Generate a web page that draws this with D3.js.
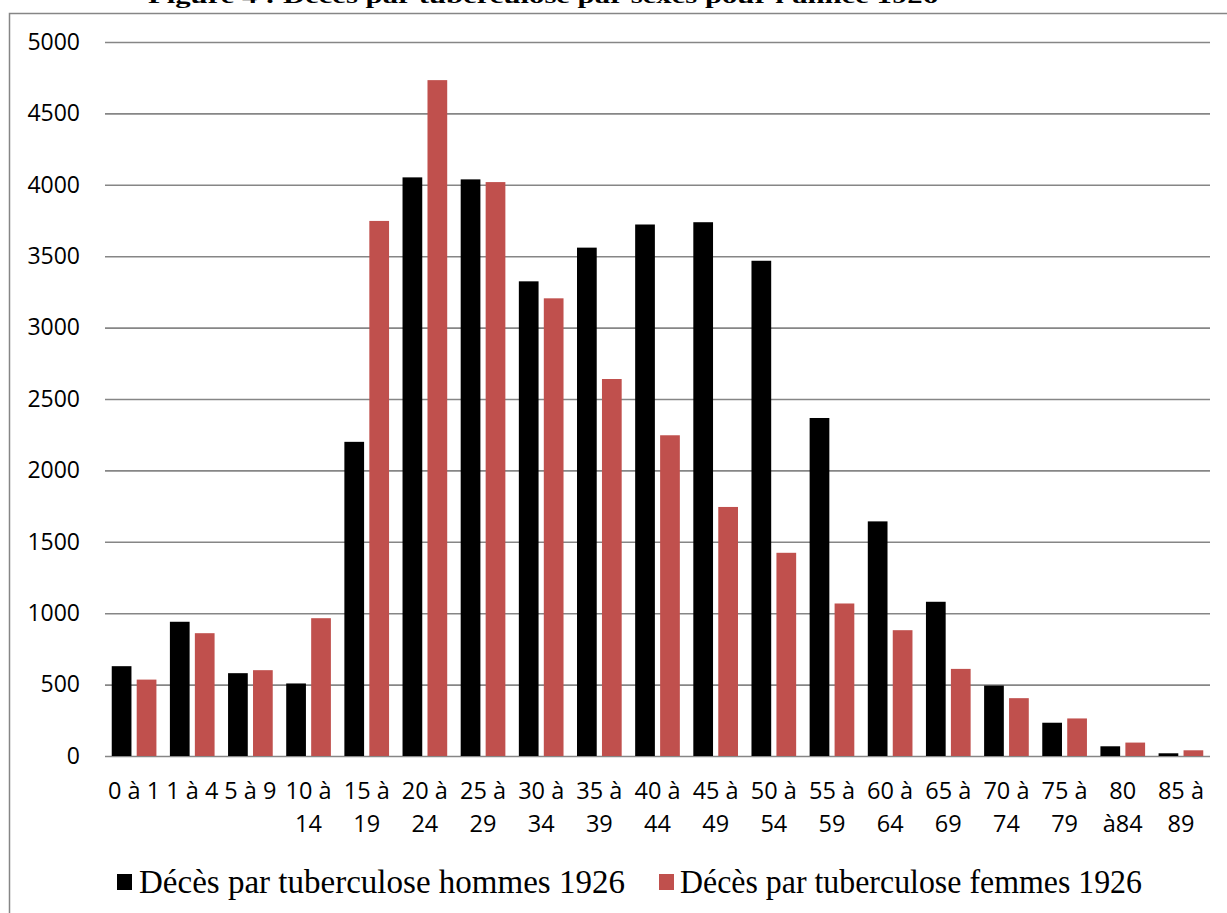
<!DOCTYPE html>
<html>
<head>
<meta charset="utf-8">
<script src="https://cdn.jsdelivr.net/npm/d3@7/dist/d3.min.js"></script>
<style>
  html, body { margin: 0; padding: 0; background: #fff; }
  svg { display: block; }
</style>
</head>
<body>
<svg id="chart" width="1227" height="913"></svg>
<script>
const title = "Figure 4 : Décès par tuberculose par sexes pour l'année 1926";
const categories = ["0 à 1", "1 à 4", "5 à 9", "10 à 14", "15 à 19", "20 à 24", "25 à 29", "30 à 34", "35 à 39", "40 à 44",
                    "45 à 49", "50 à 54", "55 à 59", "60 à 64", "65 à 69", "70 à 74", "75 à 79", "80 à84", "85 à 89"];
const seriesNames = ["Décès par tuberculose hommes 1926", "Décès par tuberculose femmes 1926"];
const hommes = [629, 940, 580, 508, 2200, 4052, 4038, 3324, 3560, 3722, 3738, 3468, 2367, 1643, 1080, 493, 233, 68, 19];
const femmes = [535, 860, 601, 965, 3747, 4733, 4019, 3205, 2640, 2246, 1744, 1423, 1068, 881, 610, 405, 263, 94, 40];
const yTicks = [0, 500, 1000, 1500, 2000, 2500, 3000, 3500, 4000, 4500, 5000];
const colors = ["#000000", "#C0504D"];

const svg = d3.select("#chart");

// title (cut off at the top edge, as in the reference)
svg.append("text")
  .attr("x", 148).attr("y", 3)
  .attr("font-family", "'Liberation Serif', 'Times New Roman', serif")
  .attr("font-weight", "bold")
  .attr("font-size", 22)
  .attr("textLength", 790).attr("lengthAdjust", "spacingAndGlyphs")
  .attr("fill", "#000")
  .text(title);

// chart frame
svg.append("rect")
  .attr("x", 9.5).attr("y", 13.5)
  .attr("width", 1240).attr("height", 920)
  .attr("fill", "#fff")
  .attr("stroke", "#868686").attr("stroke-width", 1.5);

const x0 = d3.scaleBand().domain(categories).range([105, 1210]).paddingInner(0).paddingOuter(0);
const x1 = d3.scaleBand().domain([0, 1]).range([0, x0.bandwidth()]).paddingInner(0.21).paddingOuter(0.27);
const y = d3.scaleLinear().domain([0, 5000]).range([756, 42]);

// gridlines + y labels
const yAxis = d3.axisLeft(y).tickValues(yTicks).tickFormat(d3.format("d"))
  .tickSize(-(1210 - 105)).tickPadding(25);
const gy = svg.append("g").attr("transform", "translate(105,0)").call(yAxis);
gy.select(".domain").remove();
gy.selectAll(".tick line").attr("stroke", "#868686").attr("stroke-width", 1.6);
gy.selectAll(".tick text")
  .attr("font-family", "'Open Sans', sans-serif")
  .attr("font-size", 23)
  .attr("fill", "#000");

// bars
const data = categories.map((c, i) => ({ c, v: [hommes[i], femmes[i]] }));
const groups = svg.append("g").selectAll("g").data(data).join("g")
  .attr("transform", d => `translate(${x0(d.c)},0)`);
groups.selectAll("rect").data(d => d.v.map((v, k) => ({ v, k }))).join("rect")
  .attr("x", d => x1(d.k))
  .attr("width", x1.bandwidth())
  .attr("y", d => y(d.v))
  .attr("height", d => y(0) - y(d.v))
  .attr("fill", d => colors[d.k]);

// x axis labels
const xAxis = d3.axisBottom(x0).tickSize(0).tickPadding(0);
const gx = svg.append("g").attr("transform", "translate(0,756)").call(xAxis);
gx.select(".domain").remove();
gx.selectAll(".tick text").each(function(d) {
  const t = d3.select(this);
  t.text(null).attr("y", 0).attr("dy", null)
    .attr("font-family", "'Open Sans', sans-serif")
    .attr("font-size", 23.5).attr("fill", "#000");
  let lines = [d];
  if (d.length > 5) {
    const k = d.lastIndexOf(" ");
    lines = [d.slice(0, k), d.slice(k + 1)];
  }
  lines.forEach((ln, i) => {
    t.append("tspan").attr("x", 0).attr("y", 43 + i * 33).text(ln);
  });
});

// legend
const legendItems = [
  { name: seriesNames[0], color: colors[0], sx: 117, tx: 139, tw: 486 },
  { name: seriesNames[1], color: colors[1], sx: 659, tx: 680, tw: 462 }
];
const lg = svg.append("g");
legendItems.forEach(it => {
  lg.append("rect").attr("x", it.sx).attr("y", 874).attr("width", 15).attr("height", 16).attr("fill", it.color);
  lg.append("text").attr("x", it.tx).attr("y", 893)
    .attr("font-family", "'Liberation Serif', 'Times New Roman', serif")
    .attr("font-size", 33)
    .attr("textLength", it.tw).attr("lengthAdjust", "spacingAndGlyphs")
    .attr("fill", "#000")
    .text(it.name);
});
</script>
</body>
</html>
